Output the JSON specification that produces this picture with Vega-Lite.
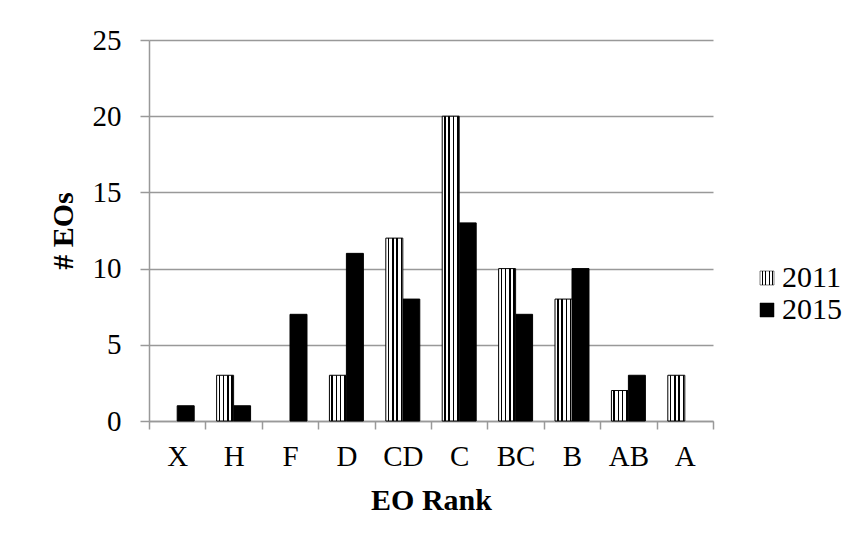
{
  "$schema": "https://vega.github.io/schema/vega-lite/v6.json",
  "autosize": "none",
  "width": 564,
  "height": 381,
  "padding": {"left": 149, "top": 40, "right": 146, "bottom": 127},
  "background": "white",
  "config": {
    "view": {"stroke": null},
    "font": "Liberation Serif"
  },
  "data": {
    "values": [
      {"rank": "X", "year": "2011", "count": 0},
      {"rank": "X", "year": "2015", "count": 1},
      {"rank": "H", "year": "2011", "count": 3},
      {"rank": "H", "year": "2015", "count": 1},
      {"rank": "F", "year": "2011", "count": 0},
      {"rank": "F", "year": "2015", "count": 7},
      {"rank": "D", "year": "2011", "count": 3},
      {"rank": "D", "year": "2015", "count": 11},
      {"rank": "CD", "year": "2011", "count": 12},
      {"rank": "CD", "year": "2015", "count": 8},
      {"rank": "C", "year": "2011", "count": 20},
      {"rank": "C", "year": "2015", "count": 13},
      {"rank": "BC", "year": "2011", "count": 10},
      {"rank": "BC", "year": "2015", "count": 7},
      {"rank": "B", "year": "2011", "count": 8},
      {"rank": "B", "year": "2015", "count": 10},
      {"rank": "AB", "year": "2011", "count": 2},
      {"rank": "AB", "year": "2015", "count": 3},
      {"rank": "A", "year": "2011", "count": 3},
      {"rank": "A", "year": "2015", "count": 0}
    ]
  },
  "transform": [{"filter": "datum.count > 0"}],
  "encoding": {
    "x": {
      "field": "rank",
      "type": "nominal",
      "sort": ["X", "H", "F", "D", "CD", "C", "BC", "B", "AB", "A"],
      "scale": {"paddingInner": 0, "paddingOuter": 0, "domain": ["X", "H", "F", "D", "CD", "C", "BC", "B", "AB", "A"]},
      "axis": {
        "title": "EO Rank",
        "titleFontSize": 30,
        "titleFontWeight": "bold",
        "titleColor": "black",
        "titlePadding": 14,
        "labelAngle": 0,
        "labelFontSize": 29,
        "labelColor": "black",
        "labelPadding": 13,
        "tickBand": "extent",
        "tickSize": 8,
        "tickColor": "#999999",
        "domainColor": "#999999",
        "domainWidth": 1.5,
        "tickWidth": 1.5,
        "grid": false
      }
    },
    "xOffset": {"field": "year", "type": "nominal", "scale": {"domain": ["2011", "2015"], "paddingInner": 0, "paddingOuter": 0.66}},
    "y": {
      "field": "count",
      "type": "quantitative",
      "scale": {"domain": [0, 25]},
      "axis": {
        "title": "# EOs",
        "titleFontSize": 30,
        "titleFontWeight": "bold",
        "titleColor": "black",
        "titlePadding": 14,
        "values": [0, 5, 10, 15, 20, 25],
        "labelFontSize": 29,
        "labelColor": "black",
        "labelPadding": 19,
        "tickSize": 9,
        "tickColor": "#999999",
        "domainColor": "#999999",
        "domainWidth": 1.5,
        "tickWidth": 1.5,
        "grid": true,
        "gridColor": "#999999",
        "gridWidth": 1.5
      }
    }
  },
  "layer": [
    {
      "transform": [{"filter": "datum.year === '2015'"}],
      "mark": {"type": "bar", "stroke": "black", "strokeWidth": 1},
      "encoding": {
        "fill": {
          "field": "year",
          "type": "nominal",
          "scale": {"domain": ["2015"], "range": ["black"]},
          "legend": {
            "title": null,
            "orient": "none",
            "legendX": 603,
            "legendY": 255,
            "padding": 0,
            "labelFontSize": 30,
            "labelColor": "black",
            "symbolType": "square",
            "symbolSize": 196,
            "symbolStrokeColor": "black",
            "symbolStrokeWidth": 0.5,
            "labelOffset": 0
          }
        }
      }
    },
    {
      "transform": [{"filter": "datum.year === '2011'"}],
      "mark": {
        "type": "bar",
        "strokeWidth": 1,
        "fill": {
          "gradient": "linear",
          "x1": 0, "y1": 0, "x2": 1, "y2": 0,
          "stops": [
            {"offset": 0, "color": "white"},
            {"offset": 0.12, "color": "white"},
            {"offset": 0.12, "color": "black"},
            {"offset": 0.21, "color": "black"},
            {"offset": 0.21, "color": "white"},
            {"offset": 0.37, "color": "white"},
            {"offset": 0.37, "color": "black"},
            {"offset": 0.46, "color": "black"},
            {"offset": 0.46, "color": "white"},
            {"offset": 0.62, "color": "white"},
            {"offset": 0.62, "color": "black"},
            {"offset": 0.71, "color": "black"},
            {"offset": 0.71, "color": "white"},
            {"offset": 0.87, "color": "white"},
            {"offset": 0.87, "color": "black"},
            {"offset": 0.96, "color": "black"},
            {"offset": 0.96, "color": "white"},
            {"offset": 1, "color": "white"}
          ]
        }
      },
      "encoding": {
        "stroke": {
          "field": "year",
          "type": "nominal",
          "scale": {"domain": ["2011"], "range": ["black"]},
          "legend": {
            "title": null,
            "orient": "none",
            "legendX": 603,
            "legendY": 223,
            "padding": 0,
            "labelFontSize": 30,
            "labelColor": "black",
            "symbolType": "square",
            "symbolSize": 196,
            "symbolStrokeWidth": 0.5,
            "labelOffset": 0
          }
        }
      }
    }
  ]
}
